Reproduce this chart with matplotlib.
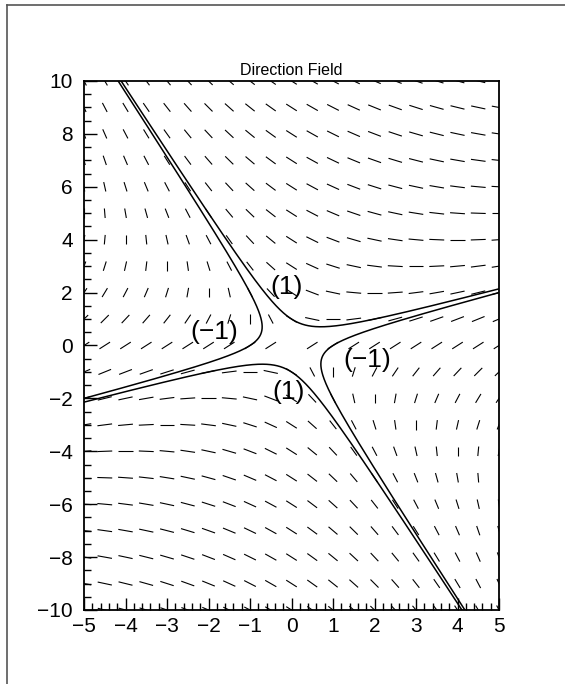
import numpy as np
import matplotlib.pyplot as plt
from matplotlib.collections import LineCollection
from matplotlib.lines import Line2D
from matplotlib.ticker import MultipleLocator

# direction field of dy/dx = (x - y) / (x + y) on a 21 x 21 grid
grid_x = np.arange(-5, 5.01, 0.5)
grid_y = np.arange(-10, 10.01, 1.0)
dash_len = 0.36

# solution curves y^2 + 2xy - x^2 = c
curve_levels = [1, -1]
label_x = [-0.13, -0.08, -1.87, 1.82]
label_y = [2.21, -1.76, 0.51, -0.55]
label_text = ["(1)", "(1)", "(\u22121)", "(\u22121)"]

x_ticks = list(range(-5, 6))
y_ticks = list(range(-10, 11, 2))

plt.rcParams["font.family"] = ["Liberation Sans", "DejaVu Sans"]
plt.rcParams["axes.unicode_minus"] = True

fig = plt.figure(figsize=(5.65, 6.84), dpi=100)
ax = fig.add_axes([0.1487, 0.1082, 0.7345, 0.7734])

segs = []
for x in grid_x:
    for y in grid_y:
        dx, dy = x + y, x - y
        n = np.hypot(dx, dy)
        if n == 0:
            continue
        hx, hy = dx / n * dash_len / 2, dy / n * dash_len / 2
        segs.append([(x - hx, y - hy), (x + hx, y + hy)])
ax.add_collection(LineCollection(segs, colors="black", linewidths=0.8))

xs = np.linspace(-5, 5, 800)
ys = np.linspace(-10, 10, 1600)
for c in curve_levels:
    if c > 0:
        for sgn in (1, -1):
            ax.plot(xs, -xs + sgn * np.sqrt(2 * xs**2 + c), color="black", lw=1.1)
    else:
        for sgn in (1, -1):
            ax.plot(ys + sgn * np.sqrt(2 * ys**2 - c), ys, color="black", lw=1.1)

for lx, ly, t in zip(label_x, label_y, label_text):
    ax.text(lx, ly, t, fontsize=19, ha="center", va="center")

ax.set_xlim(-5, 5)
ax.set_ylim(-10, 10)
ax.set_xticks(x_ticks)
ax.set_yticks(y_ticks)
ax.xaxis.set_minor_locator(MultipleLocator(0.2))
ax.yaxis.set_minor_locator(MultipleLocator(0.5))
ax.tick_params(which="major", direction="in", length=9, width=1, labelsize=15, pad=8)
ax.tick_params(which="minor", direction="in", length=5, width=1)
ax.tick_params(axis="x", which="major", pad=5)
ax.tick_params(top=False, right=False)
for s in ax.spines.values():
    s.set_linewidth(1.3)
ax.set_title("Direction Field", fontsize=11.5, pad=4)

# figure frame (top and left edges)
fx = 7 / 565
fy = 1 - 5 / 684
fig.add_artist(Line2D([fx, 1], [fy, fy], transform=fig.transFigure, color="#555555", lw=1.2))
fig.add_artist(Line2D([fx, fx], [0, fy], transform=fig.transFigure, color="#555555", lw=1.2))

fig.savefig("out.png", dpi=100)
